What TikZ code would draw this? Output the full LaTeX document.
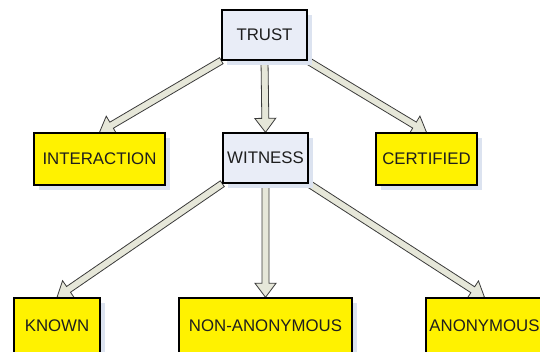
\documentclass[tikz,border=0pt]{standalone}
\usepackage{fontspec}
\setmainfont{Liberation Sans}
\usepackage{tikz}
\usetikzlibrary{calc,shadows,backgrounds}
\definecolor{boxblue}{HTML}{E9EDF7}
\definecolor{boxyellow}{HTML}{FFF200}
\definecolor{shadowblue}{HTML}{DCE3F0}
\definecolor{arrowfill}{HTML}{E6E7D9}
\definecolor{arrowline}{HTML}{3A3A3A}
\definecolor{txt}{HTML}{1E1E1E}
\tikzset{tb/.style={draw=black,line width=1.4pt,fill=boxblue,minimum width=85pt,minimum height=50pt,inner
sep=0pt,text=txt,drop shadow={shadow xshift=5pt,shadow yshift=-5pt,fill=shadowblue,opacity=1}},yb/.style={tb,fill=boxyellow,minimum
height=52pt}}
\tikzstyle{blk} = [draw=arrowline, line width=0.8pt, fill=arrowfill, to path={let \p1=($(\tikztotarget)!14pt!(\tikztostart)$) in
  ($(\tikztostart)!3.5pt!90:(\tikztotarget)$) -- ($(\p1)!3.5pt!90:(\tikztotarget)$) -- ($(\p1)!10.5pt!90:(\tikztotarget)$) -- (\tikztotarget)
  -- ($(\p1)!10.5pt!-90:(\tikztotarget)$) -- ($(\p1)!3.5pt!-90:(\tikztotarget)$) -- ($(\tikztostart)!3.5pt!-90:(\tikztotarget)$) -- cycle}]

\begin{document}
\begin{tikzpicture}[x=1pt,y=-1pt,font=\fontsize{16.8pt}{20pt}\selectfont]
	\clip (0,0) rectangle (540,351);

	\node[tb] (trust) at (264.5,35) {TRUST};
	\node[yb,minimum width=131pt] (interaction) at (99.5,159) {INTERACTION};
	\node[tb] (witness) at (265.5,158) {WITNESS};
	\node[yb,minimum width=101pt] (certified) at (426.5,159) {CERTIFIED};

	\node[yb,minimum width=86pt,minimum height=56pt] (known) at (57,326) {KNOWN};
	\node[yb,minimum width=173pt,minimum height=56pt] (nonanon) at (265.5,326) {NON-ANONYMOUS};
	\node[yb,minimum width=117pt,minimum height=56pt] (anon) at (484.5,326) {ANONYMOUS};

	\begin{scope}[on background layer]
		\draw[blk] (trust.south west) to (interaction.north);
		\draw[blk] (trust.south) to (witness.north);
		\draw[blk] (trust.south east) to (certified.north);
		\draw[blk] (witness.south west) to (known.north);
		\draw[blk] (witness.south) to (nonanon.north);
		\draw[blk] (witness.south east) to (anon.north);
	\end{scope}
\end{tikzpicture}
\end{document}
